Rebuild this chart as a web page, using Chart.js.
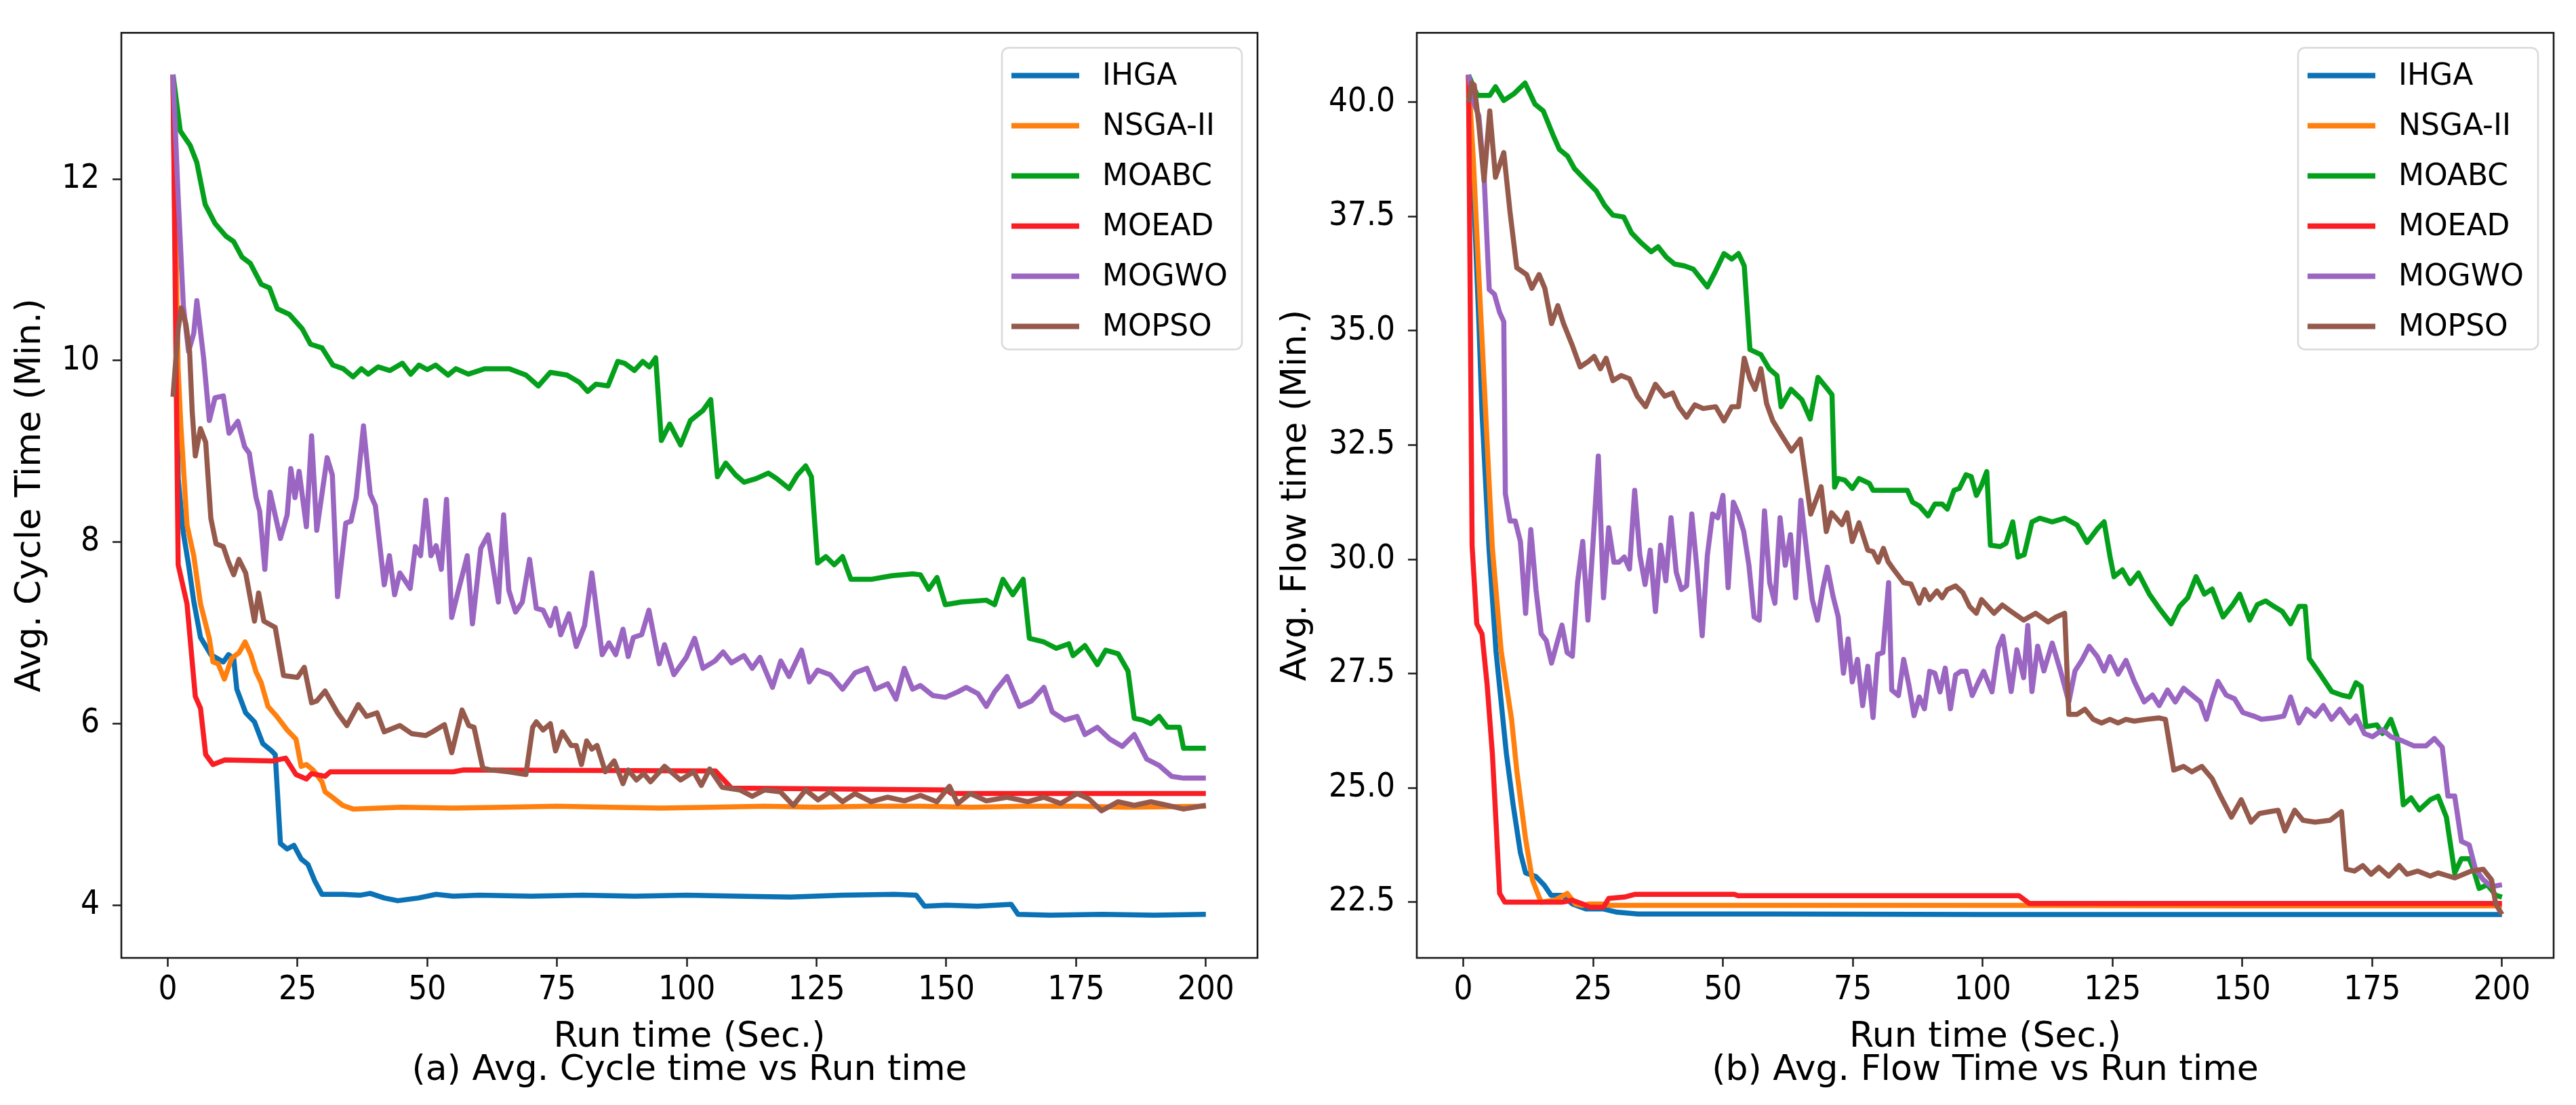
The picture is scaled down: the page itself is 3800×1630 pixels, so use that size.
<!DOCTYPE html>
<html>
<head>
<meta charset="utf-8">
<title>Avg. Cycle / Flow time vs Run time</title>
<script src="https://cdn.jsdelivr.net/npm/chart.js@4.4.1/dist/chart.umd.min.js"></script>
<style>
    html, body { margin: 0; padding: 0; background: #ffffff; }
    body { width: 3800px; height: 1630px; position: relative; overflow: hidden; }
    canvas { position: absolute; top: 0; }
    #cycleChart { left: 0; }
    #flowChart { left: 1880px; }
</style>
</head>
<body>
<canvas id="cycleChart" width="1880" height="1630"></canvas>
<canvas id="flowChart" width="1920" height="1630"></canvas>

<script>
// ==================== DATA ====================
const seriesNames = ['IHGA', 'NSGA-II', 'MOABC', 'MOEAD', 'MOGWO', 'MOPSO'];
const seriesColors = ['#0a72b5', '#ff800e', '#04a01c', '#f91e24', '#9a66c2', '#955a4c'];

const xTicks = [0, 25, 50, 75, 100, 125, 150, 175, 200];
const cycleTicks = [4, 6, 8, 10, 12];
const flowTicks = [22.5, 25.0, 27.5, 30.0, 32.5, 35.0, 37.5, 40.0];

// (a) Avg. cycle time, [run time, value]
const cycleIHGA = [[1,13.15],[2,8.7],[3,8.1],[4,7.75],[5,7.35],[6.3,6.95],[8.3,6.76],[10.7,6.68],[11.7,6.76],[12.7,6.72],[13.3,6.38],[15,6.12],[16.7,6.02],[18.3,5.78],[20,5.70],[20.7,5.66],[21.7,4.68],[23,4.62],[24.3,4.66],[25.7,4.51],[27,4.45],[28.3,4.27],[29.7,4.12],[33.7,4.12],[37,4.11],[39,4.13],[41.7,4.08],[44.3,4.05],[48.3,4.08],[51.7,4.12],[55,4.10],[60,4.11],[70,4.10],[80,4.11],[90,4.10],[100,4.11],[110,4.10],[120,4.09],[130,4.11],[140,4.12],[144.2,4.11],[145.8,3.99],[150,4.00],[156,3.99],[162.5,4.01],[163.8,3.90],[170,3.89],[180,3.90],[190,3.89],[200,3.90]];
const cycleNSGA = [[1,13.15],[2,9.9],[2.5,9.3],[3.7,8.19],[5,7.85],[6.3,7.32],[8,6.94],[8.7,6.68],[9.7,6.66],[10.9,6.49],[12.3,6.72],[13.7,6.78],[14.9,6.90],[16,6.76],[17,6.57],[18,6.45],[19.3,6.19],[21,6.08],[23,5.93],[24.7,5.83],[25.7,5.53],[26.7,5.55],[28,5.49],[29.7,5.36],[30.3,5.25],[31.7,5.19],[33.7,5.10],[35.7,5.06],[45,5.08],[55,5.07],[65,5.08],[75,5.09],[85,5.08],[95,5.07],[105,5.08],[115,5.09],[125,5.08],[135,5.09],[145,5.09],[155,5.08],[165,5.09],[175,5.09],[185,5.08],[200,5.09]];
const cycleMOABC = [[1,13.15],[2.4,12.53],[4.3,12.37],[5.6,12.18],[7.2,11.72],[9.1,11.51],[11.2,11.37],[12.7,11.31],[14.3,11.14],[15.9,11.07],[18,10.84],[19.6,10.80],[21.1,10.57],[23.4,10.51],[25.9,10.35],[27.5,10.18],[29.7,10.14],[31.8,9.95],[33.8,9.91],[35.7,9.82],[37.3,9.91],[38.6,9.85],[40.5,9.93],[42.8,9.89],[45.2,9.97],[46.8,9.85],[48.4,9.95],[50,9.90],[51.6,9.95],[54,9.84],[55.5,9.91],[57.9,9.85],[61.1,9.91],[65.8,9.91],[69,9.84],[71.4,9.72],[73.7,9.87],[76.9,9.84],[79.3,9.76],[80.9,9.66],[82.5,9.74],[84.8,9.72],[86.7,9.99],[88,9.97],[89.9,9.89],[91.5,9.99],[92.8,9.93],[94,10.03],[95.1,9.12],[96.7,9.30],[98.8,9.07],[100.7,9.34],[103.1,9.45],[104.6,9.57],[105.9,8.72],[107.5,8.87],[109.4,8.74],[111,8.66],[113.4,8.70],[115.7,8.76],[117.3,8.70],[119.7,8.59],[121.3,8.74],[122.9,8.84],[124,8.72],[125.2,7.77],[126.8,7.84],[128.4,7.75],[130,7.84],[131.6,7.59],[135.5,7.59],[139.5,7.63],[143.5,7.65],[145,7.64],[146.6,7.48],[148.2,7.61],[149.8,7.31],[152.9,7.34],[157.7,7.36],[159.3,7.31],[160.9,7.59],[162.8,7.42],[164.8,7.59],[166,6.94],[168.8,6.90],[171.2,6.83],[173.6,6.88],[174.4,6.75],[176.7,6.86],[179.1,6.65],[180.7,6.81],[183.1,6.77],[185,6.58],[186.2,6.06],[187.8,6.04],[189.4,6.0],[191,6.08],[192.6,5.96],[194.9,5.96],[195.7,5.73],[200,5.73]];
const cycleMOEAD = [[1,13.15],[2,7.75],[3.7,7.32],[5.3,6.30],[6.3,6.17],[7.3,5.66],[8.7,5.55],[11,5.60],[20.3,5.59],[22.7,5.62],[24.7,5.44],[26.7,5.39],[27.7,5.45],[30.3,5.42],[31.3,5.47],[55,5.47],[57,5.49],[105.5,5.48],[108.6,5.29],[150,5.27],[151,5.23],[200,5.23]];
const cycleMOGWO = [[1,13.15],[2,11.8],[3,10.6],[4,10.1],[5,10.3],[5.6,10.66],[6.9,10.03],[8,9.34],[9.1,9.59],[10.7,9.61],[11.8,9.2],[13.5,9.33],[14.8,9.05],[15.7,8.98],[17,8.49],[17.7,8.34],[18.7,7.70],[19.7,8.55],[21.7,8.04],[23,8.30],[23.7,8.81],[24.5,8.49],[25.3,8.78],[26.7,8.17],[27.7,9.17],[28.7,8.13],[30.7,8.93],[31.7,8.74],[32.7,7.40],[34.3,8.21],[35.3,8.23],[36.3,8.49],[37.7,9.28],[39,8.53],[40,8.40],[41.7,7.53],[42.7,7.85],[43.7,7.42],[44.7,7.66],[46.7,7.49],[47.7,7.95],[48.7,7.85],[49.7,8.46],[50.7,7.85],[51.7,7.96],[52.7,7.70],[53.7,8.47],[54.7,7.17],[56,7.47],[57.7,7.85],[58.7,7.10],[60.3,7.93],[61.7,8.08],[63.7,7.34],[64.7,8.30],[65.7,7.47],[67,7.23],[68.3,7.34],[69.7,7.81],[71,7.27],[72.3,7.25],[73.7,7.08],[74.7,7.27],[75.7,6.98],[77.3,7.21],[78.7,6.85],[80.3,7.08],[81.7,7.66],[83.7,6.76],[85,6.89],[86.3,6.76],[87.7,7.04],[88.7,6.74],[89.7,6.95],[91.3,6.98],[92.7,7.25],[94.7,6.66],[95.7,6.87],[97.5,6.54],[99.9,6.73],[101.5,6.94],[103.1,6.61],[105.4,6.69],[107,6.79],[108.6,6.67],[111,6.75],[112.6,6.61],[114.1,6.73],[116.5,6.40],[118.1,6.69],[119.7,6.52],[122.1,6.81],[123.6,6.46],[125.2,6.59],[127.6,6.54],[130,6.38],[132.4,6.56],[134.7,6.61],[136.3,6.38],[138.7,6.44],[140.3,6.27],[141.9,6.61],[143.5,6.38],[145,6.42],[147.4,6.31],[149.8,6.29],[152.2,6.35],[153.8,6.40],[156.1,6.33],[157.7,6.19],[159.3,6.35],[161.7,6.52],[164.1,6.19],[166.4,6.25],[168.8,6.40],[170.4,6.13],[172.8,6.04],[175.2,6.08],[176.7,5.88],[179.1,5.96],[181.5,5.83],[183.9,5.75],[186.2,5.88],[188.6,5.61],[191,5.54],[193.4,5.42],[195.7,5.40],[200,5.40]];
const cycleMOPSO = [[1,9.6],[2,10.35],[2.6,10.58],[3.5,10.4],[4.2,10.1],[4.7,9.44],[5.3,8.95],[6.3,9.25],[7.3,9.10],[8.3,8.26],[9.3,7.98],[10.7,7.95],[11.7,7.78],[12.7,7.64],[13.7,7.81],[15,7.66],[16.7,7.13],[17.5,7.44],[18.5,7.13],[20.7,7.06],[22.3,6.53],[25,6.51],[26.3,6.62],[27.7,6.23],[28.7,6.25],[30.3,6.36],[32.7,6.12],[34.5,5.98],[36.7,6.21],[38.3,6.08],[40.3,6.12],[41.7,5.91],[44.7,5.98],[47,5.89],[49.7,5.87],[51,5.91],[53.3,5.99],[54.7,5.68],[56.7,6.15],[58,5.98],[59,5.96],[60.7,5.51],[62.3,5.49],[65.7,5.47],[69,5.44],[70.3,5.96],[71,6.02],[72.3,5.93],[73.7,6.0],[74.7,5.70],[76,5.91],[77.7,5.76],[78.7,5.76],[79.7,5.55],[80.7,5.81],[81.7,5.72],[82.7,5.76],[84.3,5.47],[86,5.59],[87.7,5.34],[88.7,5.49],[90.3,5.38],[91.7,5.45],[93,5.36],[95.7,5.53],[98.8,5.38],[101.3,5.47],[102.8,5.32],[104.4,5.50],[106.8,5.30],[110.2,5.27],[112.6,5.20],[115,5.27],[118,5.25],[120.5,5.10],[122.9,5.27],[125.3,5.16],[127.6,5.25],[130,5.14],[132.4,5.23],[135.5,5.14],[138.7,5.19],[141.9,5.15],[145,5.21],[148.2,5.14],[150.6,5.31],[152.2,5.12],[154.6,5.23],[157.7,5.15],[161.7,5.19],[165.7,5.14],[168.8,5.19],[172,5.12],[175.2,5.23],[177.5,5.17],[179.9,5.04],[183.1,5.14],[186.2,5.10],[189.4,5.14],[192.6,5.10],[195.7,5.06],[200,5.10]];

// (b) Avg. flow time, [run time, value]
const flowIHGA = [[1,40.6],[2,38.0],[3,35.2],[3.6,33.23],[4.95,30.24],[6.3,27.99],[8.3,25.75],[9.6,24.63],[11,23.58],[12,23.14],[14,23.06],[15.6,22.87],[16.9,22.65],[19,22.65],[21,22.46],[23.6,22.35],[27,22.35],[29.6,22.28],[33.6,22.24],[60,22.24],[100,22.23],[150,22.23],[200,22.23]];
const flowNSGA = [[1,40.6],[2,38.6],[3,36.2],[4.3,33.23],[5.6,30.24],[7.3,27.99],[9.3,26.5],[10.3,25.38],[12,23.88],[13.3,22.99],[14.6,22.61],[15,22.5],[17.6,22.54],[20,22.69],[21.6,22.46],[23,22.43],[24.3,22.46],[26.6,22.46],[28.3,22.43],[60,22.43],[108,22.43],[150,22.42],[200,22.42]];
const flowMOABC = [[1,40.6],[2.7,40.15],[5.1,40.15],[6.2,40.34],[7.8,40.04],[9.8,40.19],[11.9,40.42],[13.8,39.96],[15.4,39.81],[17.3,39.28],[18.5,38.97],[20.1,38.82],[21.4,38.55],[23.6,38.29],[25.6,38.06],[27.2,37.75],[28.8,37.53],[30.9,37.49],[32.4,37.14],[34.3,36.92],[36.2,36.73],[37.5,36.84],[39.1,36.61],[40.7,36.46],[42.6,36.42],[44.3,36.35],[47,35.96],[48.6,36.31],[50.2,36.69],[51.7,36.57],[53,36.69],[54.1,36.42],[55.2,34.59],[57.3,34.48],[58.9,34.17],[60.4,34.02],[61.2,33.34],[63.1,33.72],[65.2,33.49],[66.8,33.07],[68.3,33.98],[69.9,33.76],[71,33.60],[71.5,31.58],[72.2,31.77],[73.5,31.73],[74.9,31.55],[76.2,31.77],[78.2,31.66],[78.9,31.51],[85.5,31.51],[86.5,31.25],[87.8,31.17],[89.5,30.95],[90.8,31.21],[92.2,31.21],[93.2,31.1],[94.5,31.51],[95.5,31.55],[96.8,31.85],[97.8,31.81],[98.8,31.4],[99.8,31.62],[100.8,31.92],[101.5,30.31],[103.4,30.28],[104.5,30.35],[105.8,30.82],[106.8,30.05],[108,30.1],[109.5,30.82],[111,30.90],[113.4,30.82],[115.8,30.90],[118.2,30.75],[120.1,30.37],[122.1,30.67],[123.4,30.82],[124.5,30.08],[125.3,29.62],[126.9,29.77],[128.4,29.47],[130,29.70],[132.1,29.24],[134,28.93],[136.3,28.59],[137.9,28.97],[139.5,29.16],[141.1,29.62],[142.7,29.24],[144.2,29.35],[146.3,28.74],[148.2,29.01],[149.5,29.24],[151.4,28.67],[152.9,29.01],[154.5,29.09],[156.1,28.97],[157.7,28.86],[159.3,28.59],[160.9,28.97],[162.1,28.97],[162.9,27.83],[164.8,27.52],[167.2,27.11],[169.1,27.03],[170.7,26.99],[171.9,27.30],[172.9,27.22],[173.8,26.34],[175.9,26.38],[177,26.19],[178.6,26.50],[179.8,26.12],[181,24.63],[182.5,24.78],[184.1,24.52],[186.2,24.74],[187.7,24.82],[189.3,24.36],[190.9,23.14],[192.2,23.45],[193.7,23.45],[194.5,23.22],[195.6,22.80],[197.2,22.88],[198.8,22.65],[200,22.61]];
const flowMOEAD = [[1,40.6],[1.7,30.3],[2.6,28.59],[3.6,28.37],[4.6,27.25],[5.6,25.75],[6.3,24.26],[7,22.69],[8,22.50],[19,22.50],[21,22.54],[23,22.46],[24.3,22.39],[27,22.39],[28,22.58],[31,22.61],[33,22.67],[52.2,22.67],[52.9,22.64],[107,22.64],[109,22.47],[200,22.47]];
const flowMOGWO = [[1,40.6],[2,40.0],[3,39.7],[4,38.4],[5,35.9],[6,35.8],[7,35.4],[7.8,35.2],[8.1,31.44],[9,30.84],[10,30.84],[11,30.39],[12,28.82],[13,30.65],[14,29.34],[15,28.37],[16,28.22],[17,27.73],[18,28.15],[19,28.56],[20,27.96],[21,27.88],[22,29.49],[23,30.39],[24,28.67],[25,30.39],[26,32.26],[27,29.16],[28,30.69],[29,29.94],[30,29.94],[31,30.05],[32,29.79],[33,31.51],[34,30.09],[35,29.45],[36,30.2],[37,28.86],[38,30.31],[39,29.53],[40,30.91],[41,29.72],[42,29.34],[43,29.42],[44,30.99],[45,29.79],[46,28.33],[47,30.09],[48,30.99],[49,30.91],[50,31.4],[51,29.38],[52,31.25],[53,30.99],[54,30.61],[55,29.87],[56,28.74],[57,28.67],[58,31.06],[59,29.49],[60,29.04],[61,30.91],[62,29.87],[63,30.54],[64,29.16],[65,31.29],[66.2,30.09],[67.2,29.12],[68.2,28.67],[69.2,29.34],[70.1,29.83],[71.2,29.19],[72.2,28.74],[73.2,27.51],[74.1,28.26],[74.9,27.32],[75.9,27.81],[76.9,26.8],[77.9,27.66],[78.9,26.54],[79.8,27.92],[80.8,27.96],[81.9,29.49],[82.5,27.14],[83.8,27.02],[84.8,27.81],[85.8,27.25],[86.8,26.58],[87.8,26.99],[88.8,26.73],[89.8,27.55],[90.8,27.51],[91.8,27.1],[92.8,27.62],[93.8,26.73],[94.8,27.47],[95.8,27.55],[96.8,27.55],[98,27.02],[99.2,27.32],[100.2,27.55],[101.8,27.1],[103,28.07],[103.9,28.32],[105.5,27.11],[106.6,28.02],[107.9,27.41],[108.7,28.55],[109.5,27.11],[110.6,28.10],[111.8,27.56],[113.4,28.17],[115,27.56],[116.6,26.88],[117.8,27.56],[119.1,27.79],[120.5,28.10],[122.1,27.87],[123.4,27.56],[124.5,27.87],[126.1,27.49],[127.6,27.79],[129.2,27.33],[131.1,26.88],[132.7,27.03],[134,26.8],[135.6,27.14],[137.1,26.88],[138.7,27.18],[140.3,27.03],[141.9,26.88],[143.1,26.5],[144.2,26.95],[145.3,27.33],[146.9,27.03],[148.5,26.95],[150.1,26.65],[152.2,26.57],[153.7,26.5],[156.1,26.53],[158,26.57],[159.3,26.99],[160.9,26.42],[162.4,26.72],[164,26.57],[165.6,26.8],[167.2,26.5],[168.8,26.72],[170.7,26.42],[171.9,26.57],[173.5,26.19],[175.1,26.12],[177,26.27],[178.6,26.12],[180.6,26.04],[183,25.92],[185.4,25.92],[187,26.08],[188.5,25.89],[189.6,24.82],[190.9,24.82],[192.2,23.83],[193.7,23.75],[194.9,23.22],[196.4,22.99],[198,22.84],[200,22.88]];
const flowMOPSO = [[1,40.0],[1.6,40.42],[2.1,40.38],[3,39.51],[4,38.29],[5.1,39.81],[6.2,38.36],[7.8,38.90],[9,37.60],[10.3,36.38],[12.2,36.23],[13.2,35.93],[14.6,36.23],[15.7,35.93],[17,35.16],[18.2,35.55],[19.3,35.16],[20.9,34.71],[22.5,34.21],[24.1,34.33],[25.2,34.44],[26.4,34.17],[27.5,34.40],[28.8,33.91],[30.4,34.02],[32,33.95],[33.5,33.57],[35.1,33.34],[37,33.83],[38.8,33.57],[40.3,33.64],[41.5,33.34],[43,33.11],[44.6,33.38],[46.2,33.30],[48.6,33.34],[50.2,33.03],[51.7,33.34],[53,33.34],[54.1,34.40],[55.2,33.95],[56.2,33.72],[57.3,34.17],[58.4,33.41],[59.6,33.03],[61.2,32.73],[63.2,32.37],[64.9,32.63],[66.9,30.99],[68.9,31.59],[69.9,30.61],[70.9,31.02],[72.9,30.76],[73.9,31.02],[74.9,30.39],[76.2,30.8],[77.9,30.2],[78.9,30.17],[79.9,29.94],[80.9,30.24],[81.8,29.95],[82.8,29.79],[84.8,29.49],[86.2,29.46],[87.8,29.04],[88.8,29.34],[89.8,29.12],[91.2,29.31],[92.2,29.16],[93.2,29.34],[94.8,29.42],[96.2,29.27],[97.5,28.97],[98.8,28.82],[99.8,29.12],[101,28.97],[102.2,28.82],[103.8,29.0],[105.5,28.86],[107.9,28.67],[110.2,28.82],[112.6,28.63],[114.2,28.74],[115.8,28.82],[116.6,26.61],[118.2,26.61],[119.7,26.72],[121.3,26.50],[122.9,26.42],[124.5,26.50],[126.1,26.42],[127.6,26.50],[129.2,26.46],[131.6,26.50],[134,26.53],[135.2,26.50],[136.8,25.39],[138.7,25.47],[140.3,25.35],[142.2,25.47],[144.2,25.20],[145.8,24.82],[147.9,24.36],[149.8,24.74],[151.7,24.25],[153.3,24.44],[155.3,24.48],[156.9,24.51],[158.2,24.06],[160.1,24.51],[161.7,24.29],[164,24.25],[166.9,24.29],[169.1,24.48],[170,23.22],[171.6,23.18],[173.2,23.30],[174.8,23.11],[176.3,23.26],[178.2,23.07],[180.2,23.30],[181.7,23.11],[183.8,23.18],[186.2,23.07],[187.7,23.14],[190.9,23.03],[194.1,23.18],[196.4,23.22],[198,22.99],[198.8,22.46],[200,22.23]];

// ==================== STYLE ====================
const AXIS_COLOR = '#1a1a1a';
const TICK_FONT = { family: '"DejaVu Sans Condensed", "DejaVu Sans"', size: 49 };
const LABEL_FONT = { family: '"DejaVu Sans"', size: 52 };

Chart.defaults.font.family = '"DejaVu Sans"';
Chart.defaults.color = '#000';

// axes box + legend inside the top right corner, drawn like matplotlib
const boxLegendPlugin = {
    id: 'boxLegend',
    afterDatasetsDraw(chart) {
        const { ctx, chartArea: a } = chart;
        ctx.save();
        ctx.strokeStyle = AXIS_COLOR;
        ctx.lineWidth = 2.6;
        ctx.strokeRect(a.left, a.top, a.right - a.left, a.bottom - a.top);

        const w = 354, h = 445;
        const x0 = a.right - 23 - w;
        const y0 = a.top + 22;
        ctx.beginPath();
        ctx.roundRect(x0, y0, w, h, 10);
        ctx.fillStyle = 'rgba(255,255,255,0.8)';
        ctx.fill();
        ctx.strokeStyle = '#d9d9d9';
        ctx.lineWidth = 2.5;
        ctx.stroke();

        ctx.font = '44px "DejaVu Sans"';
        ctx.textBaseline = 'middle';
        ctx.textAlign = 'left';
        chart.data.datasets.forEach((ds, i) => {
            const y = y0 + 41 + i * 74;
            ctx.strokeStyle = ds.borderColor;
            ctx.lineWidth = 8;
            ctx.lineCap = 'butt';
            ctx.beginPath();
            ctx.moveTo(x0 + 14, y);
            ctx.lineTo(x0 + 114, y);
            ctx.stroke();
            ctx.fillStyle = '#000';
            ctx.fillText(ds.label, x0 + 148, y + 2);
        });
        ctx.restore();
    }
};

function makeDatasets(seriesList) {
    return seriesList.map((pts, i) => ({
        label: seriesNames[i],
        data: pts.map(p => ({ x: p[0], y: p[1] })),
        borderColor: seriesColors[i],
        backgroundColor: seriesColors[i],
        borderWidth: 7.5,
        borderJoinStyle: 'round',
        pointRadius: 0,
        tension: 0,
        fill: false,
        order: seriesNames.length - i   // last series on top, like matplotlib
    }));
}

function makeChart(canvasId, cfg) {
    return new Chart(document.getElementById(canvasId), {
        type: 'line',
        data: { datasets: makeDatasets(cfg.series) },
        options: {
            responsive: false,
            animation: false,
            devicePixelRatio: 1,
            layout: { padding: { left: 0, top: 35, right: cfg.padRight, bottom: 0 } },
            plugins: { legend: { display: false }, tooltip: { enabled: false } },
            scales: {
                x: {
                    type: 'linear',
                    min: -8.95,
                    max: 209.95,
                    afterBuildTicks: s => { s.ticks = xTicks.map(v => ({ value: v })); },
                    afterFit: s => { s.height = 217; },
                    ticks: { font: TICK_FONT, color: '#000', padding: 6, maxRotation: 0 },
                    grid: { drawOnChartArea: false, drawTicks: true, tickLength: 13, tickWidth: 2.5, color: AXIS_COLOR },
                    border: { display: false },
                    title: {
                        display: true,
                        text: ['Run time (Sec.)', cfg.caption],
                        font: { ...LABEL_FONT, lineHeight: 0.94 },
                        color: '#000',
                        padding: { top: 0, bottom: 26 }
                    }
                },
                y: {
                    type: 'linear',
                    min: cfg.yMin,
                    max: cfg.yMax,
                    afterBuildTicks: s => { s.ticks = cfg.yTicks.map(v => ({ value: v })); },
                    afterFit: s => { s.width = cfg.yWidth; },
                    ticks: { font: TICK_FONT, color: '#000', padding: 19, callback: cfg.fmt },
                    grid: { drawOnChartArea: false, drawTicks: true, tickLength: 13, tickWidth: 2.5, color: AXIS_COLOR },
                    border: { display: false },
                    title: {
                        display: true,
                        text: cfg.yTitle,
                        font: LABEL_FONT,
                        color: '#000',
                        padding: { top: cfg.yTitlePad, bottom: 0 }
                    }
                }
            }
        },
        plugins: [boxLegendPlugin]
    });
}

// ==================== START ====================
document.addEventListener('DOMContentLoaded', () => {
    makeChart('cycleChart', {
        series: [cycleIHGA, cycleNSGA, cycleMOABC, cycleMOEAD, cycleMOGWO, cycleMOPSO],
        yMin: 3.42, yMax: 13.61, yTicks: cycleTicks,
        fmt: v => String(v),
        yTitle: 'Avg. Cycle Time (Min.)',
        caption: '(a) Avg. Cycle time vs Run time',
        yWidth: 179, yTitlePad: 14, padRight: 25
    });
    makeChart('flowChart', {
        series: [flowIHGA, flowNSGA, flowMOABC, flowMOEAD, flowMOGWO, flowMOPSO],
        yMin: 21.28, yMax: 41.52, yTicks: flowTicks,
        fmt: v => v.toFixed(1),
        yTitle: 'Avg. Flow time (Min.)',
        caption: '(b) Avg. Flow Time vs Run time',
        yWidth: 210, yTitlePad: 1, padRight: 33
    });
});
</script>
</body>
</html>
